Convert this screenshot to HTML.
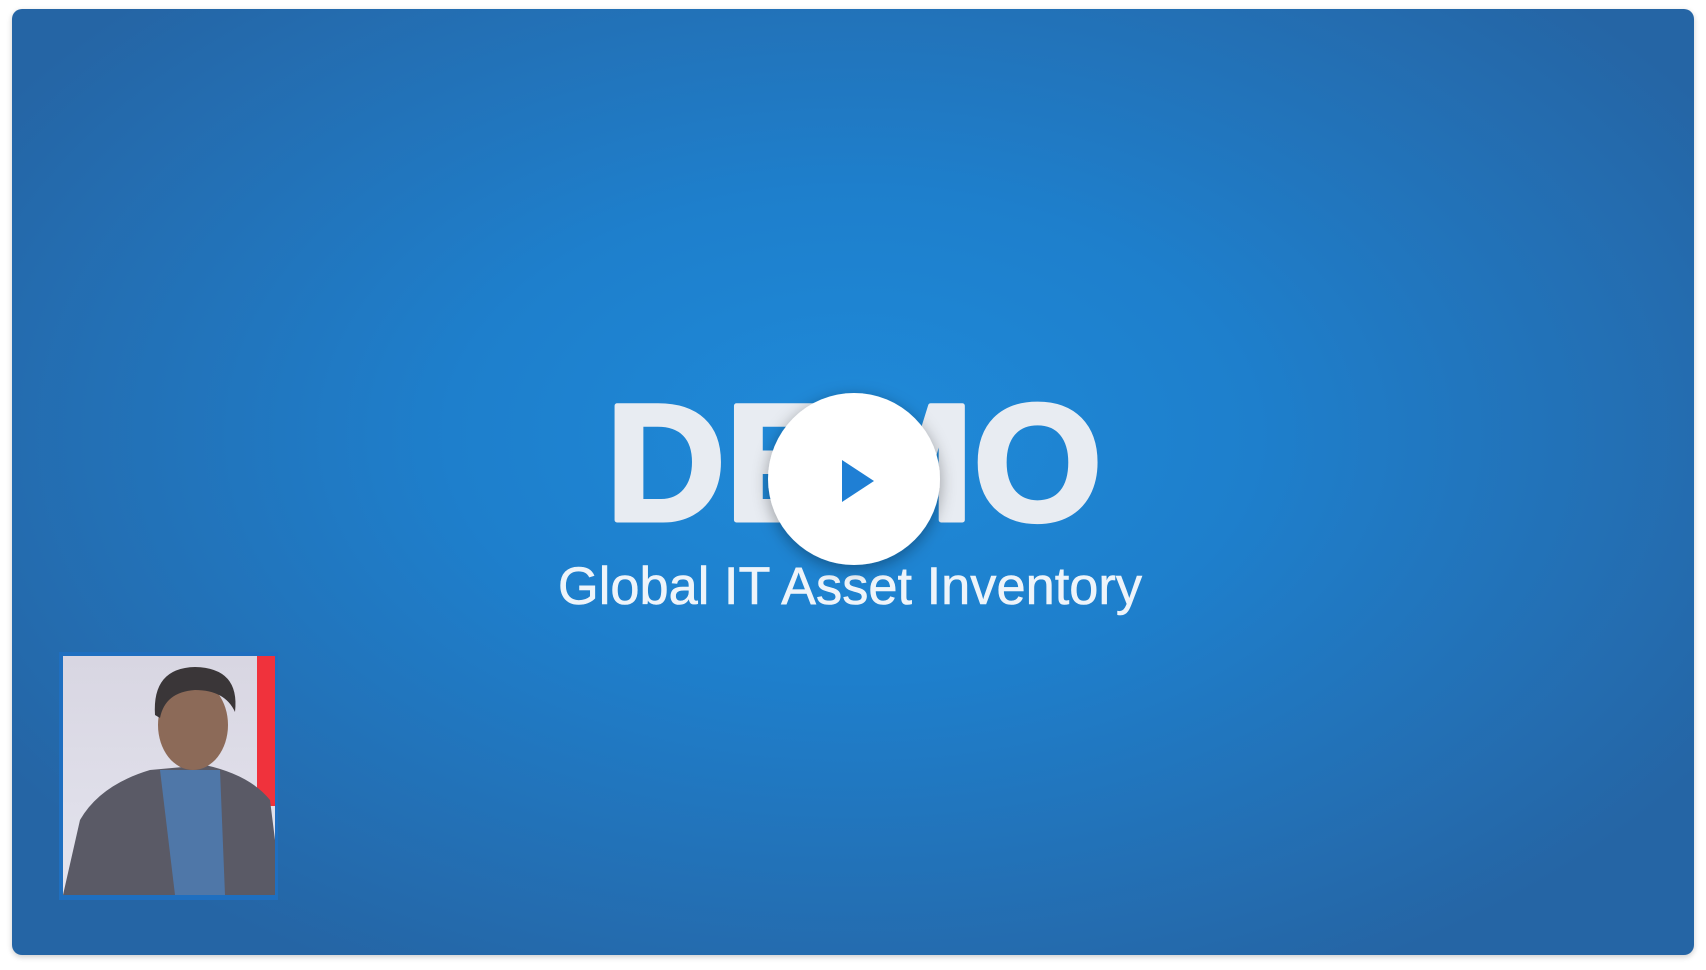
<!DOCTYPE html>
<html><head><meta charset="utf-8"><style>
html,body{margin:0;padding:0;width:1706px;height:970px;background:#fff;overflow:hidden;font-family:"Liberation Sans",sans-serif}
#card{position:absolute;left:12px;top:9px;width:1682px;height:946px;border-radius:10px;background:radial-gradient(ellipse 60% 65% at 50% 45%,#1f8ad9 0%,#1e7fcc 40%,#2370b5 75%,#2565a5 100%);box-shadow:0 2px 6px rgba(0,0,0,.2);overflow:hidden}
svg{position:absolute;left:0;top:0}
</style></head><body>
<div id="card"></div>
<svg width="1706" height="970">
<defs>
<filter id="sh" x="-30%" y="-30%" width="160%" height="160%"><feDropShadow dx="0" dy="4" stdDeviation="8" flood-color="#000" flood-opacity="0.35"/></filter>
<linearGradient id="bg" x1="0" y1="0" x2="0" y2="1"><stop offset="0" stop-color="#d8d6e2"/><stop offset="1" stop-color="#e4e4ee"/></linearGradient>
</defs>
<text x="606" y="520" font-size="166" font-weight="bold" fill="#e8ecf2" stroke="#e8ecf2" stroke-width="5" stroke-linejoin="round" textLength="496" lengthAdjust="spacingAndGlyphs">DEMO</text>
<text x="558" y="604" font-size="53" fill="#eef4fa" stroke="#eef4fa" stroke-width="0.6" textLength="584" lengthAdjust="spacingAndGlyphs">Global IT Asset Inventory</text>
<g>
<circle cx="854" cy="479" r="86" fill="#fff" filter="url(#sh)"/>
<polygon points="842,460 842,502 874,481" fill="#1f7fd4"/>
</g>
<g>
<rect x="59" y="652" width="219" height="248" fill="#1f6fc0"/>
<rect x="63" y="656" width="212" height="239" fill="url(#bg)"/>
<rect x="257" y="656" width="18" height="150" fill="#f0323c"/>
<path d="M63,895 L80,820 Q100,785 150,770 L205,765 Q250,775 270,800 L275,840 L275,895 Z" fill="#5a5a66"/>
<path d="M160,770 L175,895 L225,895 L220,770 Z" fill="#4f77a8"/>
<ellipse cx="193" cy="725" rx="35" ry="45" fill="#8c6a58"/>
<path d="M155,715 Q152,668 195,667 Q240,668 235,712 Q225,690 195,690 Q165,692 160,718 Z" fill="#3a3638"/>
</g>
</svg>
</body></html>
